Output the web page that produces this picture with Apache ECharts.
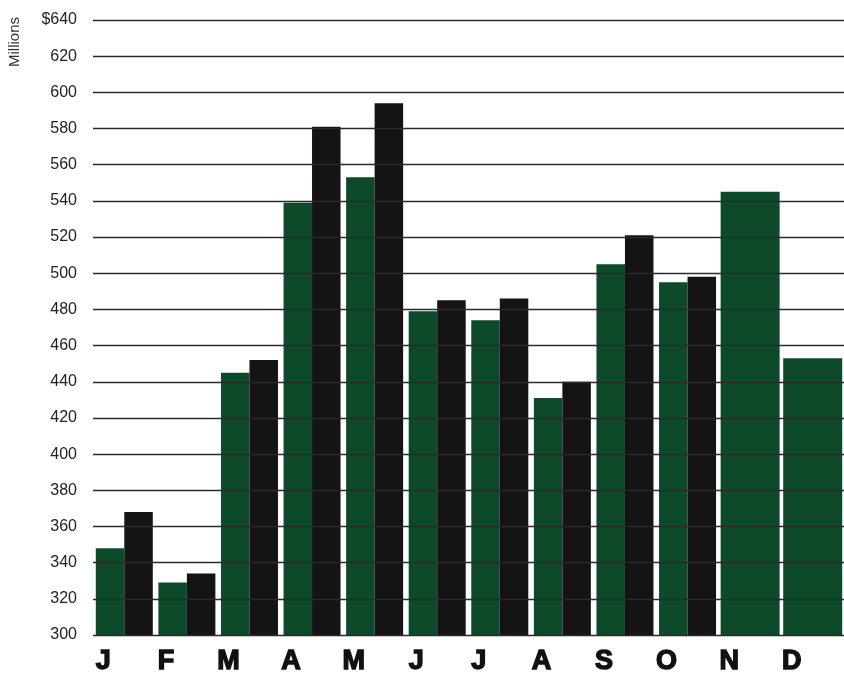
<!DOCTYPE html>
<html>
<head>
<meta charset="utf-8">
<script src="https://cdn.jsdelivr.net/npm/echarts@6/dist/echarts.min.js"></script>
<style>
  html, body { margin: 0; padding: 0; background: #ffffff; }
  #chart { width: 844px; height: 677px; }
</style>
</head>
<body>
<div id="chart"></div>
<script>
// Monthly sales, millions of dollars
const months = ['J', 'F', 'M', 'A', 'M', 'J', 'J', 'A', 'S', 'O', 'N', 'D'];
const currentYear = [348, 329, 445, 539, 553, 479, 474, 431, 505, 495, 545, 453];
const priorYear = [368, 334, 452, 581, 594, 485, 486, 440, 521, 498, null, null];
const yTicks = [300, 320, 340, 360, 380, 400, 420, 440, 460, 480, 500, 520, 540, 560, 580, 600, 620, 640];

// Months with both years shown as pairs; months with a single year get one wide bar
const pairedGreen = currentYear.map((v, i) => priorYear[i] == null ? null : v);
const soloGreen = currentYear.map((v, i) => priorYear[i] == null ? v : null);

const GREEN = '#0c4a2a';
const BLACK = '#151313';
const FONT = '"Liberation Sans", Arial, Helvetica, sans-serif';

const chart = echarts.init(document.getElementById('chart'), null, { renderer: 'canvas' });

chart.setOption({
  animation: false,
  backgroundColor: '#ffffff',
  grid: { left: 93, width: 760, top: 20, bottom: 42, containLabel: false },
  xAxis: [
    {
      type: 'category',
      data: months,
      axisLine: { show: false },
      axisTick: { show: false },
      axisLabel: {
        margin: 13,
        fontFamily: FONT,
        fontWeight: 'bold',
        fontSize: 27,
        color: '#111',
        textBorderColor: '#111',
        textBorderWidth: 1.4,
        align: 'center',
        padding: [0, 42, 0, 0]
      }
    },
    {
      type: 'category',
      data: months,
      show: false,
      position: 'bottom'
    }
  ],
  yAxis: {
    type: 'value',
    min: yTicks[0],
    max: yTicks[yTicks.length - 1],
    interval: yTicks[1] - yTicks[0],
    z: 5,
    axisLine: { show: false },
    axisTick: { show: false },
    axisLabel: {
      margin: 16,
      fontFamily: FONT,
      fontSize: 16,
      color: '#222',
      formatter: v => (v === yTicks[yTicks.length - 1] ? '$' + v : String(v))
    },
    splitLine: { show: true, lineStyle: { color: '#2a2a2a', width: 1.3 } }
  },
  graphic: [
    {
      type: 'text',
      x: 7,
      y: 67,
      rotation: Math.PI / 2,
      style: {
        text: 'Millions',
        fontFamily: FONT,
        fontSize: 15,
        fill: '#333'
      }
    }
  ],
  series: [
    {
      name: 'This year',
      type: 'bar',
      xAxisIndex: 0,
      data: pairedGreen,
      barWidth: 28.5,
      barGap: '0%',
      itemStyle: { color: GREEN }
    },
    {
      name: 'Last year',
      type: 'bar',
      xAxisIndex: 0,
      data: priorYear,
      barWidth: 28.5,
      barGap: '0%',
      itemStyle: { color: BLACK }
    },
    {
      name: 'This year (single)',
      type: 'bar',
      xAxisIndex: 1,
      data: soloGreen,
      barWidth: 59,
      itemStyle: { color: GREEN }
    }
  ]
});
</script>
</body>
</html>
